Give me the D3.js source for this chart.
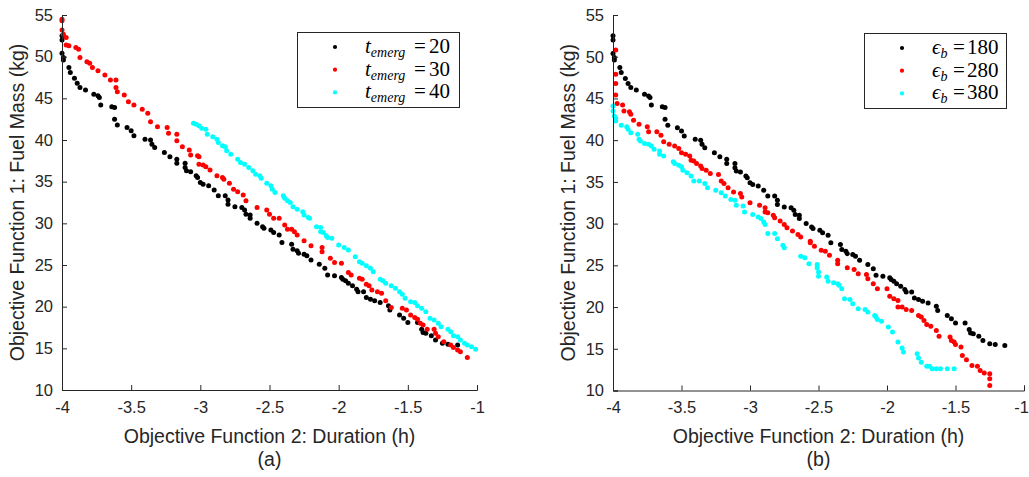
<!DOCTYPE html>
<html>
<head>
<meta charset="utf-8">
<script src="https://cdn.jsdelivr.net/npm/d3@7"></script>
<style>
  html, body { margin: 0; padding: 0; background: #fff; }
  svg { display: block; }
</style>
</head>
<body>
<svg id="chart" width="1029" height="477"></svg>
<script>
// ---------------- DATA ----------------
const xTicks = [-4, -3.5, -3, -2.5, -2, -1.5, -1];
const yTicks = [10, 15, 20, 25, 30, 35, 40, 45, 50, 55];
const xLabel = "Objective Function 2: Duration (h)";
const yLabel = "Objective Function 1: Fuel Mass (kg)";
const panelCaptions = ["(a)", "(b)"];

// Shared baseline series (t_emerg = 20 / eps_b = 180)
const baseline = [
  [-4.0,52.5],[-4.0,52.0],[-4.0,50.4],[-3.99,49.9],[-3.99,49.6],[-3.95,48.7],[-3.94,48.1],[-3.91,47.4],
  [-3.89,46.8],[-3.87,46.3],[-3.83,46.0],[-3.77,45.5],[-3.74,45.3],[-3.73,45.1],[-3.72,44.2],[-3.64,44.0],
  [-3.62,43.9],[-3.62,42.5],[-3.6,41.8],[-3.53,41.5],[-3.5,41.1],[-3.48,40.5],[-3.4,40.1],[-3.36,40.0],
  [-3.35,39.5],[-3.33,39.1],[-3.26,38.5],[-3.22,38.0],[-3.17,37.7],[-3.17,37.2],[-3.11,37.2],[-3.11,36.7],
  [-3.1,36.3],[-3.07,36.2],[-3.03,35.7],[-3.02,35.5],[-3.0,34.9],[-2.98,34.7],[-2.94,34.5],[-2.9,34.0],
  [-2.87,33.3],[-2.82,33.3],[-2.8,32.8],[-2.8,32.3],[-2.75,32.0],[-2.7,31.9],[-2.68,31.6],[-2.67,31.1],
  [-2.64,31.0],[-2.64,30.6],[-2.59,30.0],[-2.55,29.6],[-2.54,29.4],[-2.49,29.2],[-2.47,28.9],[-2.43,28.6],
  [-2.41,27.7],[-2.34,27.5],[-2.33,26.9],[-2.3,26.7],[-2.29,26.4],[-2.25,26.3],[-2.23,26.1],[-2.2,25.6],
  [-2.14,25.1],[-2.1,24.6],[-2.08,23.8],[-2.03,23.7],[-1.98,23.5],[-1.97,23.3],[-1.95,23.1],[-1.93,22.8],
  [-1.9,22.5],[-1.87,22.1],[-1.86,21.8],[-1.82,21.8],[-1.8,21.1],[-1.77,20.9],[-1.74,20.7],[-1.7,20.5],
  [-1.64,20.1],[-1.63,19.6],[-1.56,19.0],[-1.53,18.6],[-1.5,18.1],[-1.43,18.1],[-1.4,17.3],[-1.39,16.9],
  [-1.37,16.8],[-1.33,16.5],[-1.3,16.0],[-1.25,15.6],[-1.21,15.5],[-1.14,15.4]
];

const temerg30 = [
  [-4.0,54.5],[-4.0,54.3],[-4.0,53.2],[-3.99,52.7],[-3.97,52.3],[-3.97,51.4],[-3.95,51.3],[-3.9,51.1],
  [-3.88,50.9],[-3.87,49.9],[-3.82,49.4],[-3.8,49.2],[-3.78,48.7],[-3.74,48.3],[-3.69,47.8],[-3.65,47.2],
  [-3.61,47.2],[-3.61,46.3],[-3.6,45.8],[-3.55,45.4],[-3.52,44.6],[-3.48,44.2],[-3.42,43.7],[-3.38,43.2],
  [-3.36,42.2],[-3.31,41.6],[-3.24,41.5],[-3.23,40.8],[-3.17,40.7],[-3.17,39.9],[-3.13,39.2],[-3.08,38.8],
  [-3.07,38.2],[-3.02,38.1],[-3.01,38.0],[-3.01,37.1],[-2.98,37.0],[-2.96,36.8],[-2.93,36.4],[-2.88,35.7],
  [-2.84,35.5],[-2.83,35.3],[-2.79,34.8],[-2.76,34.1],[-2.73,33.8],[-2.69,33.4],[-2.67,32.7],[-2.59,31.9],
  [-2.52,31.6],[-2.5,31.1],[-2.47,30.6],[-2.43,30.6],[-2.39,29.8],[-2.37,29.3],[-2.34,29.3],[-2.32,29.0],
  [-2.3,28.6],[-2.25,27.9],[-2.2,27.3],[-2.12,27.1],[-2.12,26.6],[-2.06,25.8],[-2.03,25.3],[-1.98,25.2],
  [-1.93,24.1],[-1.91,23.8],[-1.85,23.4],[-1.83,23.3],[-1.8,22.7],[-1.78,22.5],[-1.76,22.0],[-1.72,21.8],
  [-1.69,21.6],[-1.66,20.7],[-1.62,19.9],[-1.54,19.8],[-1.51,19.6],[-1.48,19.0],[-1.45,18.7],[-1.43,18.5],
  [-1.41,18.0],[-1.39,17.8],[-1.36,17.3],[-1.31,17.3],[-1.3,16.8],[-1.28,16.4],[-1.24,15.8],[-1.19,15.4],
  [-1.17,15.1],[-1.14,14.8],[-1.12,14.6],[-1.07,13.9]
];

const temerg40 = [
  [-3.05,42.0],[-3.03,41.9],[-3.01,41.7],[-2.99,41.4],[-2.96,41.3],[-2.95,40.7],[-2.91,40.4],[-2.88,40.1],
  [-2.87,39.7],[-2.84,39.3],[-2.82,39.2],[-2.81,38.7],[-2.78,38.3],[-2.73,37.7],[-2.71,37.3],[-2.68,37.1],
  [-2.65,36.7],[-2.62,36.3],[-2.6,35.9],[-2.57,35.7],[-2.56,35.4],[-2.52,34.8],[-2.49,34.5],[-2.48,34.1],
  [-2.46,33.7],[-2.4,33.3],[-2.39,33.0],[-2.37,32.7],[-2.35,32.5],[-2.33,32.0],[-2.3,31.7],[-2.26,31.4],
  [-2.25,31.0],[-2.22,30.7],[-2.21,30.6],[-2.16,29.6],[-2.13,29.5],[-2.13,29.0],[-2.11,28.9],[-2.09,28.5],
  [-2.08,28.3],[-2.05,28.2],[-2.0,27.4],[-1.96,27.1],[-1.93,26.8],[-1.88,26.0],[-1.85,25.4],[-1.83,25.2],
  [-1.8,24.9],[-1.77,24.6],[-1.75,24.2],[-1.7,23.3],[-1.68,23.1],[-1.66,22.8],[-1.62,22.5],[-1.59,22.2],
  [-1.56,21.8],[-1.54,21.5],[-1.52,21.0],[-1.48,20.6],[-1.45,20.5],[-1.43,20.1],[-1.4,19.8],[-1.37,19.4],
  [-1.34,18.6],[-1.31,18.4],[-1.28,18.0],[-1.26,17.6],[-1.21,17.3],[-1.19,17.0],[-1.17,16.5],[-1.14,16.4],
  [-1.12,16.0],[-1.09,15.6],[-1.07,15.4],[-1.04,15.2],[-1.01,14.9]
];

const epsb280 = [
  [-3.98,50.8],[-3.98,47.9],[-3.98,46.8],[-3.98,45.4],[-3.97,44.4],[-3.93,44.2],[-3.92,43.5],[-3.88,43.4],
  [-3.87,43.1],[-3.85,42.4],[-3.81,41.9],[-3.75,41.6],[-3.74,41.0],[-3.68,41.0],[-3.65,40.6],[-3.63,39.8],
  [-3.59,39.5],[-3.55,39.3],[-3.52,39.0],[-3.5,38.5],[-3.47,38.3],[-3.44,38.1],[-3.43,37.6],[-3.41,37.5],
  [-3.39,37.2],[-3.36,36.9],[-3.35,36.6],[-3.32,36.4],[-3.29,36.0],[-3.23,35.9],[-3.21,35.1],[-3.19,34.8],
  [-3.16,34.3],[-3.12,33.8],[-3.07,33.6],[-3.06,33.2],[-3.0,32.5],[-2.93,32.2],[-2.89,31.9],[-2.89,31.4],
  [-2.87,31.3],[-2.83,31.0],[-2.82,30.7],[-2.78,30.3],[-2.75,29.9],[-2.73,29.5],[-2.69,29.1],[-2.65,28.7],
  [-2.63,28.4],[-2.56,27.9],[-2.56,27.7],[-2.53,27.3],[-2.48,26.8],[-2.45,26.7],[-2.42,26.2],[-2.36,25.6],
  [-2.36,25.2],[-2.29,24.7],[-2.24,24.5],[-2.21,24.0],[-2.15,23.9],[-2.14,23.4],[-2.1,22.8],[-2.07,22.2],
  [-2.0,22.2],[-1.98,21.3],[-1.95,21.0],[-1.92,20.8],[-1.92,20.0],[-1.89,20.0],[-1.86,19.7],[-1.82,19.6],
  [-1.77,19.0],[-1.75,18.8],[-1.73,18.4],[-1.71,17.9],[-1.68,17.7],[-1.64,17.2],[-1.62,16.5],[-1.54,16.4],
  [-1.53,16.0],[-1.51,15.8],[-1.5,15.5],[-1.46,15.2],[-1.45,14.2],[-1.42,13.7],[-1.38,13.0],[-1.34,12.9],
  [-1.32,12.4],[-1.29,12.1],[-1.25,12.0],[-1.25,11.4],[-1.25,10.6]
];

const epsb380 = [
  [-4.0,44.1],[-4.0,43.5],[-3.99,42.9],[-3.98,42.6],[-3.98,42.3],[-3.94,41.8],[-3.9,41.6],[-3.89,41.3],
  [-3.87,40.9],[-3.82,40.7],[-3.81,40.1],[-3.8,39.9],[-3.77,39.6],[-3.74,39.5],[-3.72,39.3],[-3.7,38.9],
  [-3.66,38.7],[-3.66,38.3],[-3.63,38.1],[-3.56,37.4],[-3.55,37.2],[-3.52,37.0],[-3.5,36.8],[-3.49,36.4],
  [-3.46,36.1],[-3.43,35.7],[-3.41,35.1],[-3.37,35.1],[-3.33,34.8],[-3.31,34.3],[-3.25,34.0],[-3.21,33.7],
  [-3.18,33.3],[-3.14,32.9],[-3.11,32.8],[-3.1,32.2],[-3.05,32.1],[-3.04,31.4],[-2.98,31.1],[-2.94,30.8],
  [-2.92,30.6],[-2.9,30.2],[-2.89,29.9],[-2.87,28.8],[-2.82,28.8],[-2.8,28.2],[-2.76,27.4],[-2.75,27.1],
  [-2.63,26.1],[-2.6,25.9],[-2.57,25.2],[-2.51,25.1],[-2.51,24.7],[-2.5,24.2],[-2.5,23.7],[-2.44,23.6],
  [-2.43,23.1],[-2.39,22.9],[-2.36,22.8],[-2.35,22.6],[-2.33,22.2],[-2.31,21.0],[-2.27,20.9],[-2.25,20.4],
  [-2.21,19.8],[-2.16,19.7],[-2.14,19.4],[-2.09,19.0],[-2.08,18.8],[-2.07,18.5],[-2.04,18.3],[-1.99,17.6],
  [-1.96,17.0],[-1.92,15.8],[-1.89,15.1],[-1.88,14.6],[-1.78,14.4],[-1.77,13.9],[-1.75,13.4],[-1.71,12.9],
  [-1.69,12.9],[-1.67,12.6],[-1.64,12.6],[-1.61,12.6],[-1.56,12.6],[-1.51,12.6]
];

const seriesColors = ["#000000", "#ff0000", "#00ffff"];
const legendA = [
  {sym: "t", sub: "emerg", val: "20"},
  {sym: "t", sub: "emerg", val: "30"},
  {sym: "t", sub: "emerg", val: "40"}
];
const legendB = [
  {sym: "\u03F5", sub: "b", val: "180"},
  {sym: "\u03F5", sub: "b", val: "280"},
  {sym: "\u03F5", sub: "b", val: "380"}
];

// ---------------- DRAW ----------------
const svg = d3.select("#chart");
const axisColor = "#262626";
const sans = "'Liberation Sans', Arial, Helvetica, sans-serif";
const serif = "'Liberation Serif', 'Times New Roman', serif";

const panels = [
  {left: 62, right: 477, top: 15, bottom: 390, series: [baseline, temerg30, temerg40], legend: legendA,
   box: {x: 297, y: 32, w: 162, h: 75, eq: 117, val: 132}, caption: panelCaptions[0], lastShift: 0},
  {left: 613, right: 1024, top: 15, bottom: 390.5, series: [baseline, epsb280, epsb380], legend: legendB,
   box: {x: 864, y: 33, w: 142, h: 75, eq: 89, val: 103}, caption: panelCaptions[1], lastShift: -3}
];

panels.forEach(p => {
  const x = d3.scaleLinear().domain([-4, -1]).range([p.left, p.right]);
  const y = d3.scaleLinear().domain([10, 55]).range([p.bottom, p.top]);
  const g = svg.append("g");

  // points
  p.series.forEach((data, i) => {
    g.append("g").selectAll("circle").data(data).join("circle")
      .attr("cx", d => x(d[0])).attr("cy", d => y(d[1]))
      .attr("r", 2.5).attr("fill", seriesColors[i]);
  });

  // axes
  const xAxis = d3.axisBottom(x).tickValues(xTicks).tickSize(-5).tickPadding(11)
    .tickFormat(d => String(d));
  const yAxis = d3.axisLeft(y).tickValues(yTicks).tickSize(-5).tickPadding(9)
    .tickFormat(d => String(d));

  const gx = g.append("g").attr("transform", `translate(0,${p.bottom})`).call(xAxis);
  const gy = g.append("g").attr("transform", `translate(${p.left},0)`).call(yAxis);
  [gx, gy].forEach(a => {
    a.select(".domain").attr("stroke", axisColor).attr("stroke-width", 1);
    a.selectAll(".tick line").attr("stroke", axisColor);
    a.selectAll(".tick text").attr("fill", axisColor).style("font-family", sans).style("font-size", "16.5px");
  });
  gx.selectAll(".tick text").filter(d => d === -1).attr("dx", p.lastShift);

  // labels
  const cx = (p.left + p.right) / 2;
  g.append("text").attr("x", cx).attr("y", 443).attr("text-anchor", "middle")
    .attr("fill", axisColor).style("font-family", sans).style("font-size", "19.5px").text(xLabel);
  g.append("text").attr("x", cx).attr("y", 466).attr("text-anchor", "middle")
    .attr("fill", axisColor).style("font-family", sans).style("font-size", "19.5px").text(p.caption);
  const cy = (p.top + p.bottom) / 2;
  g.append("text").attr("transform", `translate(${p.left - 38},${cy}) rotate(-90)`)
    .attr("text-anchor", "middle").attr("fill", axisColor)
    .style("font-family", sans).style("font-size", "19.5px").text(yLabel);

  // legend
  const b = p.box;
  g.append("rect").attr("x", b.x + 0.5).attr("y", b.y + 0.5).attr("width", b.w).attr("height", b.h)
    .attr("fill", "#fff").attr("stroke", axisColor).attr("stroke-width", 1);
  p.legend.forEach((L, i) => {
    const ly = b.y + 15 + i * 22.7;
    g.append("circle").attr("cx", b.x + 38).attr("cy", ly).attr("r", 2.1).attr("fill", seriesColors[i]);
    const t = g.append("text").attr("x", b.x + 68).attr("y", ly + 6)
      .attr("fill", "#000").style("font-family", serif).style("font-size", "21px");
    t.append("tspan").style("font-style", "italic").text(L.sym);
    t.append("tspan").style("font-style", "italic").style("font-size", "14px").attr("dy", 4).text(L.sub);
    t.append("tspan").attr("x", b.x + b.eq).attr("dy", -4).text("=");
    t.append("tspan").attr("x", b.x + b.val).text(L.val);
  });
});
</script>
</body>
</html>
